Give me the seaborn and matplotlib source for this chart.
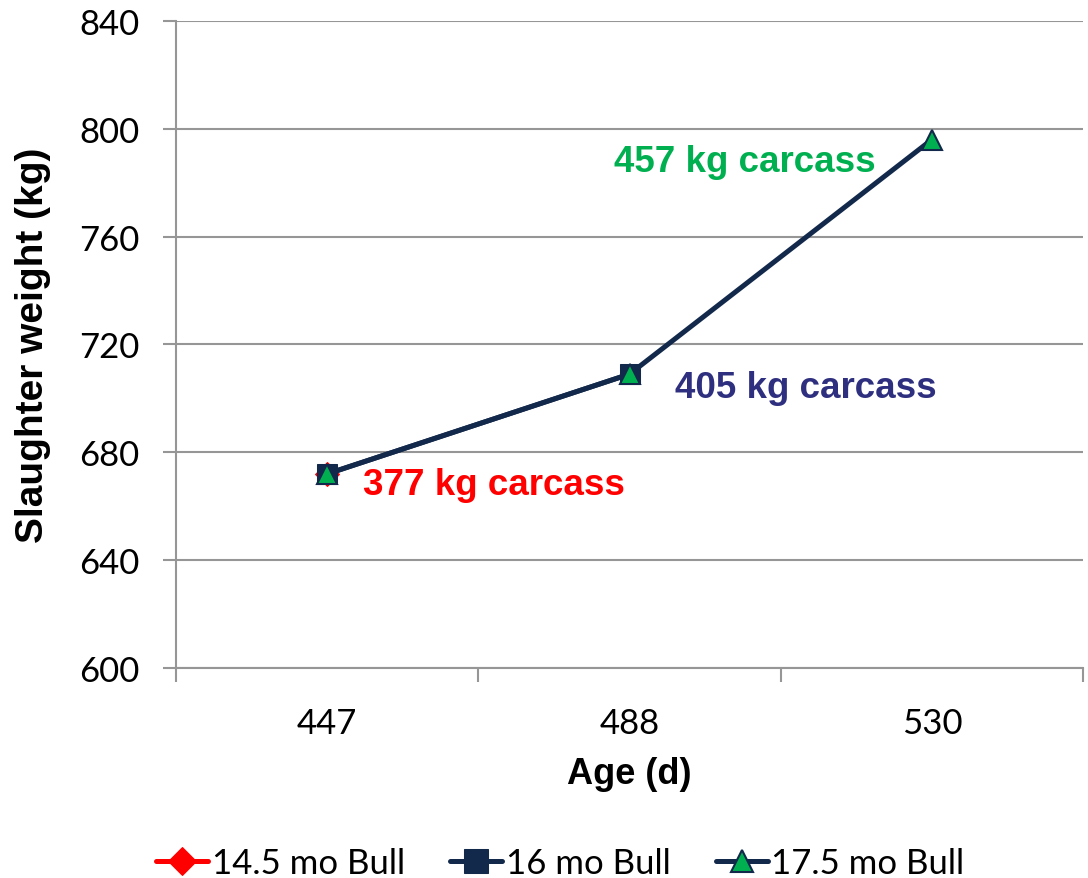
import matplotlib
matplotlib.use("Agg")
import matplotlib.pyplot as plt
import pandas as pd
import seaborn as sns

# data
ages = ["447", "488", "530"]
bull_145 = [672]
bull_16 = [672, 709]
bull_175 = [672, 709, 796]
series_names = ["14.5 mo Bull", "16 mo Bull", "17.5 mo Bull"]
carcass_labels = ["377 kg carcass", "405 kg carcass", "457 kg carcass"]

NAVY = "#13294B"
GREEN = "#00B050"
RED = "#FF0000"
GRID = "#969696"

sns.set_theme(style="white")
plt.rcParams["font.family"] = ["Lato", "DejaVu Sans"]
plt.rcParams["text.color"] = "black"
plt.rcParams["axes.labelcolor"] = "black"
plt.rcParams["xtick.color"] = "black"
plt.rcParams["ytick.color"] = "black"

fig = plt.figure(figsize=(10.88, 8.79), dpi=100)
ax = fig.add_axes([0.1618, 0.2389, 0.8336, 0.7361])


def to_frame(values):
    return pd.DataFrame({"pos": list(range(len(values))), "weight": values})


sns.lineplot(data=to_frame(bull_145), x="pos", y="weight", ax=ax, color=RED,
             lw=3.6, marker="D", markersize=12, markeredgecolor=RED,
             label=series_names[0], zorder=3)
sns.lineplot(data=to_frame(bull_16), x="pos", y="weight", ax=ax, color=NAVY,
             lw=3.6, marker="s", markersize=15, markeredgecolor=NAVY,
             label=series_names[1], zorder=4)
sns.lineplot(data=to_frame(bull_175), x="pos", y="weight", ax=ax, color=NAVY,
             lw=3.6, marker="^", markersize=14, markerfacecolor=GREEN,
             markeredgecolor=NAVY, markeredgewidth=1.5,
             label=series_names[2], zorder=5)

ax.set_xlim(-0.5, len(ages) - 0.5)
ax.set_ylim(600, 840)
ax.set_yticks(range(600, 841, 40))
ax.set_xticks(range(len(ages)))
ax.set_xticklabels(ages)
ax.set_xticks([i - 0.5 for i in range(len(ages) + 1)], minor=True)
ax.tick_params(axis="x", which="major", length=0, pad=28, labelsize=25)
ax.tick_params(axis="x", which="minor", length=10, width=1.5, color=GRID,
               direction="out", bottom=True)
ax.tick_params(axis="y", length=9.5, width=1.5, color=GRID, direction="out",
               left=True, pad=17, labelsize=25)
ax.yaxis.grid(True, color=GRID, lw=1.5)
ax.set_axisbelow(True)
for side in ["top", "right"]:
    ax.spines[side].set_visible(False)
for side in ["left", "bottom"]:
    ax.spines[side].set_color(GRID)
    ax.spines[side].set_linewidth(1.5)

ax.set_xlabel("Age (d)", fontsize=26, fontweight="bold",
              family="Liberation Sans", labelpad=12)
ax.set_ylabel("Slaughter weight (kg)", fontsize=28, fontweight="bold",
              family="Liberation Sans", labelpad=20)

# carcass annotations
ax.text(0.12, 668, carcass_labels[0], color=RED, fontsize=26.5,
        fontweight="bold", family="Liberation Sans", va="center")
ax.text(1.15, 704, carcass_labels[1], color="#2E2F7E", fontsize=26.5,
        fontweight="bold", family="Liberation Sans", va="center")
ax.text(0.95, 788, carcass_labels[2], color=GREEN, fontsize=26.5,
        fontweight="bold", family="Liberation Sans", va="center")

handles, labels = ax.get_legend_handles_labels()
ax.get_legend().remove()
fig.legend(handles, labels, loc="center", bbox_to_anchor=(0.515, 0.017), ncol=3,
           frameon=False, fontsize=25, handlelength=1.5, handletextpad=0.1,
           columnspacing=1.3, borderpad=0, markerscale=1.15)

fig.savefig("out.png", dpi=100)
